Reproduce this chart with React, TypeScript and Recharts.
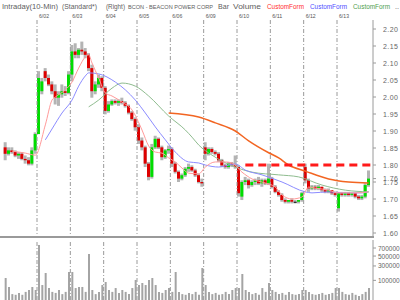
import { Bar, ComposedChart, Line, ReferenceLine, XAxis, YAxis } from "recharts";

// Un jour = 10 barres (10 min compressées), 11 séances affichées
const JOURS = ["6/02", "6/03", "6/04", "6/05", "6/06", "6/09", "6/10", "6/11", "6/12", "6/13"];
const BARRES_PAR_JOUR = 10;

const OUVERTURES = [
  1.852, 1.833, 1.843, 1.838, 1.828, 1.833, 1.818, 1.814, 1.804, 1.843,
  1.891, 2.017, 2.076, 2.056, 2.037, 2.017, 1.998, 2.008, 2.017, 2.012,
  2.066, 2.134, 2.124, 2.139, 2.134, 2.124, 2.085, 2.017, 2.037, 2.056,
  2.027, 1.959, 1.978, 1.988, 1.983, 1.988, 1.983, 1.974, 1.954, 1.935,
  1.911, 1.872, 1.852, 1.804, 1.765, 1.852, 1.877, 1.852, 1.823, 1.843,
  1.847, 1.804, 1.78, 1.76, 1.77, 1.789, 1.794, 1.784, 1.77, 1.75,
  1.852, 1.833, 1.847, 1.838, 1.833, 1.814, 1.799, 1.794, 1.804, 1.799,
  1.794, 1.707, 1.75, 1.755, 1.741, 1.75, 1.755, 1.746, 1.755, 1.746,
  1.76, 1.736, 1.721, 1.712, 1.697, 1.692, 1.697, 1.692, 1.692, 1.697,
  1.794, 1.755, 1.731, 1.736, 1.731, 1.736, 1.726, 1.721, 1.726, 1.717,
  1.673, 1.717, 1.712, 1.717, 1.712, 1.717, 1.707, 1.702, 1.707, 1.741,
];
const HAUTS = [
  1.867, 1.852, 1.852, 1.843, 1.838, 1.838, 1.828, 1.823, 1.852, 1.896,
  2.076, 2.056, 2.085, 2.066, 2.046, 2.037, 2.017, 2.037, 2.032, 2.076,
  2.153, 2.158, 2.144, 2.163, 2.144, 2.129, 2.095, 2.046, 2.066, 2.061,
  2.032, 1.988, 1.993, 1.993, 1.993, 1.998, 1.988, 1.978, 1.959, 1.94,
  1.92, 1.881, 1.857, 1.809, 1.862, 1.886, 1.881, 1.857, 1.847, 1.857,
  1.852, 1.809, 1.784, 1.775, 1.794, 1.804, 1.799, 1.789, 1.775, 1.76,
  1.867, 1.852, 1.852, 1.843, 1.838, 1.818, 1.804, 1.809, 1.809, 1.828,
  1.799, 1.755, 1.765, 1.76, 1.755, 1.76, 1.765, 1.76, 1.76, 1.804,
  1.765, 1.741, 1.726, 1.717, 1.702, 1.697, 1.702, 1.697, 1.697, 1.721,
  1.804, 1.76, 1.741, 1.741, 1.741, 1.736, 1.731, 1.731, 1.726, 1.721,
  1.721, 1.721, 1.721, 1.721, 1.717, 1.717, 1.712, 1.712, 1.746, 1.784,
];
const BAS = [
  1.814, 1.828, 1.833, 1.823, 1.818, 1.814, 1.804, 1.799, 1.799, 1.833,
  1.891, 2.008, 2.046, 2.032, 2.008, 1.978, 1.974, 1.998, 2.003, 2.008,
  2.046, 2.114, 2.114, 2.124, 2.114, 2.076, 1.998, 2.008, 2.027, 2.017,
  1.949, 1.954, 1.974, 1.978, 1.974, 1.978, 1.969, 1.949, 1.93, 1.901,
  1.862, 1.843, 1.794, 1.755, 1.76, 1.847, 1.847, 1.814, 1.818, 1.833,
  1.794, 1.775, 1.75, 1.755, 1.765, 1.78, 1.78, 1.765, 1.746, 1.736,
  1.814, 1.828, 1.833, 1.828, 1.809, 1.794, 1.789, 1.789, 1.794, 1.789,
  1.707, 1.697, 1.741, 1.731, 1.736, 1.741, 1.741, 1.736, 1.741, 1.741,
  1.731, 1.717, 1.707, 1.692, 1.687, 1.687, 1.687, 1.687, 1.687, 1.692,
  1.746, 1.721, 1.726, 1.726, 1.726, 1.721, 1.717, 1.717, 1.712, 1.707,
  1.663, 1.707, 1.707, 1.707, 1.707, 1.702, 1.697, 1.697, 1.702, 1.736,
];
const CLOTURES = [
  1.833, 1.843, 1.838, 1.828, 1.833, 1.818, 1.814, 1.804, 1.843, 1.891,
  2.056, 2.046, 2.056, 2.037, 2.017, 1.998, 2.008, 2.017, 2.012, 2.066,
  2.134, 2.124, 2.139, 2.134, 2.124, 2.085, 2.017, 2.037, 2.056, 2.027,
  1.959, 1.978, 1.988, 1.983, 1.988, 1.983, 1.974, 1.954, 1.935, 1.911,
  1.872, 1.852, 1.804, 1.765, 1.852, 1.877, 1.852, 1.823, 1.843, 1.847,
  1.804, 1.78, 1.76, 1.77, 1.789, 1.794, 1.784, 1.77, 1.75, 1.746,
  1.833, 1.847, 1.838, 1.833, 1.814, 1.799, 1.794, 1.804, 1.799, 1.794,
  1.717, 1.75, 1.755, 1.741, 1.75, 1.755, 1.746, 1.755, 1.746, 1.76,
  1.736, 1.721, 1.712, 1.697, 1.692, 1.697, 1.692, 1.692, 1.697, 1.717,
  1.755, 1.731, 1.736, 1.731, 1.736, 1.726, 1.721, 1.726, 1.717, 1.712,
  1.717, 1.712, 1.717, 1.712, 1.717, 1.707, 1.702, 1.707, 1.741, 1.76,
];
const VOLUMES = [
  125000, 44000, 9000, 7000, 13000, 7000, 17000, 26000, 44000, 26000,
  783000, 58000, 189000, 37000, 17000, 13000, 26000, 9000, 17000, 203000,
  203000, 37000, 44000, 44000, 17000, 548000, 26000, 9000, 17000, 58000,
  84000, 26000, 17000, 37000, 13000, 26000, 17000, 9000, 37000, 104000,
  58000, 75000, 58000, 104000, 125000, 58000, 17000, 13000, 26000, 37000,
  17000, 203000, 17000, 9000, 7000, 13000, 9000, 17000, 7000, 265000,
  58000, 17000, 9000, 13000, 7000, 9000, 17000, 9000, 26000, 37000,
  37000, 175000, 26000, 17000, 9000, 13000, 7000, 37000, 17000, 75000,
  26000, 17000, 9000, 13000, 7000, 17000, 9000, 7000, 9000, 26000,
  26000, 17000, 9000, 7000, 9000, 13000, 7000, 9000, 13000, 37000,
  37000, 17000, 9000, 7000, 13000, 7000, 4000, 9000, 17000, 37000,
];

// moyennes mobiles : [indice de barre, valeur]
const MOYENNE_ROUGE = [
  [2, 1.841], [6, 1.835], [9, 1.829], [12, 1.918], [14, 1.991], [15, 2.0], [18, 2.021],
  [20, 2.044], [22, 2.085], [24, 2.118], [25, 2.124], [26, 2.1], [28, 2.056], [30, 2.012],
  [32, 2.003], [35, 1.985], [38, 1.962], [41, 1.903], [43, 1.856], [45, 1.838], [47, 1.835],
  [49, 1.821], [51, 1.809], [53, 1.791], [55, 1.776], [58, 1.774], [60, 1.794], [63, 1.809],
  [66, 1.809], [68, 1.806], [71, 1.779], [74, 1.759], [78, 1.747], [81, 1.735], [83, 1.712],
  [86, 1.7], [89, 1.706], [91, 1.735], [93, 1.732], [97, 1.726], [100, 1.718], [105, 1.718],
  [109, 1.721],
];
const MOYENNE_BLEUE = [
  [12, 1.874], [14, 1.906], [17, 1.953], [20, 1.991], [22, 2.032], [24, 2.062], [25, 2.071],
  [28, 2.068], [33, 2.044], [36, 2.021], [39, 1.991], [42, 1.953], [45, 1.912], [48, 1.874],
  [51, 1.838], [55, 1.809], [58, 1.806], [60, 1.8], [64, 1.794], [69, 1.803], [72, 1.785],
  [77, 1.771], [83, 1.75], [90, 1.721], [92, 1.718], [97, 1.721], [102, 1.718], [107, 1.718],
  [109, 1.721],
];
const MOYENNE_VERTE = [
  [25, 1.971], [28, 1.991], [32, 2.026], [35, 2.041], [39, 2.032], [43, 2.003], [49, 1.944],
  [54, 1.903], [56, 1.882], [58, 1.859], [62, 1.829], [69, 1.794], [74, 1.779], [82, 1.771],
  [88, 1.765], [95, 1.741], [102, 1.726], [109, 1.721],
];
const MOYENNE_ORANGE = [
  [49, 1.953], [58, 1.941], [63, 1.924], [69, 1.9], [73, 1.871], [79, 1.836], [82, 1.821],
  [85, 1.8], [90, 1.782], [97, 1.759], [103, 1.75], [109, 1.747],
];

const SEUIL_PRIX = 1.8;
const SEUIL_DEBUT = 72;

const TICKS_PRIX = [1.6, 1.65, 1.7, 1.75, 1.76, 1.8, 1.85, 1.9, 1.95, 2.0, 2.05, 2.1, 2.15, 2.2];
const TICKS_VOLUME = [100000, 300000, 500000, 700000];
const TICKS_JOURS = JOURS.map((_, k) => (k + 1) * BARRES_PAR_JOUR - 0.5);

const X_MIN = -1.6;
const X_MAX = 110.3;
const Y_MIN = 1.5853;
const Y_MAX = 2.2265;
const V_MAX = 932000;

const GRIS = "#9a9a9a";

// en-tête : texte, x de départ, largeur, taille, couleur
const ENTETE: [string, number, number, number, string][] = [
  ["Intraday(10-Min)", 2, 56, 7.2, "#606060"],
  ["(Standard*)", 62, 35, 6.8, "#606060"],
  ["(Right)", 106, 19, 6.3, "#606060"],
  ["BCON - BEACON POWER CORP", 128, 85, 5.8, "#606060"],
  ["Bar", 218, 11, 7, "#606060"],
  ["Volume", 233, 28, 7.2, "#606060"],
  ["CustomForm", 267, 37, 6.4, "#ff3030"],
  ["CustomForm", 310, 37, 6.4, "#5050ff"],
  ["CustomForm", 353, 37, 6.4, "#50a050"],
  ["..", 395, 4, 7, "#606060"],
];

type Ligne = Record<string, number | null>;

function preparerDonnees(): Ligne[] {
  const lignes: Ligne[] = CLOTURES.map((c, i) => ({
    i,
    o: OUVERTURES[i],
    h: HAUTS[i],
    l: BAS[i],
    c,
    v: VOLUMES[i],
    mr: null,
    mb: null,
    mv: null,
    mo: null,
  }));
  const poser = (serie: number[][], cle: string) => {
    for (const [i, val] of serie) lignes[i][cle] = val;
  };
  poser(MOYENNE_ROUGE, "mr");
  poser(MOYENNE_BLEUE, "mb");
  poser(MOYENNE_VERTE, "mv");
  poser(MOYENNE_ORANGE, "mo");
  return lignes;
}

function Bougie(props: any) {
  const { x, y, width, height, payload } = props;
  const { o, h, l, c } = payload;
  const echelle = h === l ? 0 : height / (h - l);
  const yOuv = y + (h - o) * echelle;
  const yClot = y + (h - c) * echelle;
  const couleur = c > o ? "#00dd00" : c < o ? "#dd0000" : "#000000";
  return (
    <g>
      <rect x={x} y={y} width={width} height={Math.max(1, height)} fill="#b4b4b4" />
      <rect
        x={x}
        y={Math.min(yOuv, yClot)}
        width={width}
        height={Math.max(1, Math.abs(yOuv - yClot))}
        fill={couleur}
      />
    </g>
  );
}

function TickJour({ x, payload }: any) {
  const k = TICKS_JOURS.indexOf(payload.value);
  return (
    <text x={x + 2} y={17.5} fontSize={6} fill="#555" textLength={10} lengthAdjust="spacingAndGlyphs">
      {JOURS[k]}
    </text>
  );
}

function TickPrix({ x, y, payload }: any) {
  return (
    <text x={x + 5} y={y + 2.5} fontSize={7} fill="#666" textLength={15} lengthAdjust="spacing">
      {payload.value.toFixed(2)}
    </text>
  );
}

function TickVolume({ x, y, payload }: any) {
  return (
    <text x={x} y={y + 2.5} fontSize={6.5} fill="#666">
      {payload.value}
    </text>
  );
}

export default function App() {
  const donnees = preparerDonnees();

  const separateurs = TICKS_JOURS.map((b) => (
    <ReferenceLine key={b} x={b} stroke={GRIS} strokeDasharray="4 2 1 2" />
  ));

  return (
    <div
      style={{
        position: "absolute",
        left: 0,
        top: 0,
        width: 400,
        height: 300,
        background: "#fff",
        overflow: "hidden",
        fontFamily: "'Liberation Sans', Arial, sans-serif",
      }}
    >
      <div style={{ position: "absolute", left: 0, top: 0 }}>
        <ComposedChart width={400} height={240} data={donnees} margin={{ top: 8, right: 0, bottom: 2, left: 0 }}>
          <XAxis
            dataKey="i"
            type="number"
            orientation="top"
            domain={[X_MIN, X_MAX]}
            ticks={TICKS_JOURS}
            tick={<TickJour />}
            interval={0}
            axisLine={false}
            tickLine={false}
            height={12}
            allowDataOverflow
          />
          <YAxis
            orientation="right"
            domain={[Y_MIN, Y_MAX]}
            ticks={TICKS_PRIX}
            tick={<TickPrix />}
            interval={0}
            width={27}
            tickSize={3}
            stroke={GRIS}
            allowDataOverflow
          />
          {separateurs}
          <Bar
            dataKey={(d: any) => [d.l, d.h]}
            barSize={3}
            shape={(p: any) => <Bougie {...p} />}
            isAnimationActive={false}
          />
          <Line dataKey="mv" stroke="#8fbc8f" strokeWidth={1} dot={false} connectNulls type="monotone" isAnimationActive={false} />
          <Line dataKey="mb" stroke="#8c8cff" strokeWidth={1} dot={false} connectNulls type="monotone" isAnimationActive={false} />
          <Line dataKey="mr" stroke="#ff9a9a" strokeWidth={1} dot={false} connectNulls type="monotone" isAnimationActive={false} />
          <Line dataKey="mo" stroke="#f26522" strokeWidth={1.5} dot={false} connectNulls type="monotone" isAnimationActive={false} />
          <ReferenceLine
            segment={[
              { x: SEUIL_DEBUT, y: SEUIL_PRIX },
              { x: X_MAX, y: SEUIL_PRIX },
            ]}
            stroke="#ff1a1a"
            strokeWidth={3}
            strokeDasharray="8 5"
          />
        </ComposedChart>
      </div>

      <div style={{ position: "absolute", left: 0, top: 236, width: 374, height: 2, background: "#9a9a9a" }} />

      <div style={{ position: "absolute", left: 0, top: 238 }}>
        <ComposedChart width={400} height={62} data={donnees} margin={{ top: 2, right: 0, bottom: 0, left: 0 }}>
          <XAxis dataKey="i" type="number" domain={[X_MIN, X_MAX]} hide allowDataOverflow />
          <YAxis
            orientation="right"
            scale="sqrt"
            domain={[0, V_MAX]}
            ticks={TICKS_VOLUME}
            tick={<TickVolume />}
            interval={0}
            width={27}
            tickSize={3}
            stroke={GRIS}
            allowDataOverflow
          />
          {separateurs}
          <Bar dataKey="v" fill="#a4a4a4" barSize={2} isAnimationActive={false} />
        </ComposedChart>
      </div>

      <svg width={400} height={12} style={{ position: "absolute", left: 0, top: 0 }}>
        {ENTETE.map(([texte, x, largeur, taille, couleur], k) => (
          <text
            key={k}
            x={x}
            y={9}
            fontSize={taille}
            fill={couleur}
            textLength={largeur}
            lengthAdjust="spacingAndGlyphs"
          >
            {texte}
          </text>
        ))}
      </svg>
    </div>
  );
}
